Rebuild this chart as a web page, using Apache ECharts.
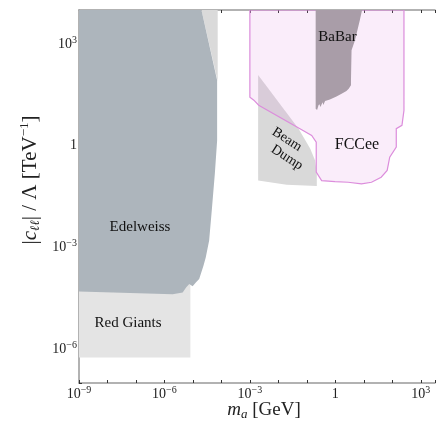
<!DOCTYPE html>
<html>
<head>
<meta charset="utf-8">
<script src="https://cdn.jsdelivr.net/npm/echarts@6.0.0/dist/echarts.min.js"></script>
<style>
  html, body { margin: 0; padding: 0; background: #fff; }
  #main { width: 438px; height: 429px; }
</style>
</head>
<body>
<div id="main"></div>
<script>
// each region: list of [log10(m_a / GeV), log10(|c_ll|/Lambda / TeV^-1)]
const redGiants = [[-9, -3.9], [-5.09, -3.9], [-5.09, -6.25], [-9, -6.25]];
const upperGrey = [[-4.70, 4], [-4.13, 4], [-4.13, 1.9]];
const edelweiss = [
  [-9, 4], [-4.70, 4], [-4.15, 1.93], [-4.15, 0.15], [-4.23, -0.82], [-4.33, -1.83],
  [-4.43, -2.80], [-4.55, -3.30], [-4.63, -3.54], [-4.78, -3.93], [-4.89, -4.03],
  [-5.01, -4.15], [-5.13, -4.08], [-5.24, -4.18], [-5.36, -4.33], [-5.71, -4.38], [-9, -4.30]
];
const beamDump = [
  [-2.71, 2.08], [-1.29, 0.50], [-0.88, -0.09], [-0.71, -0.44], [-0.65, -0.83],
  [-0.65, -1.19], [-1.71, -1.15], [-2.71, -1.03]
];
const fccee = [
  [-3, 4], [-3, 1.43], [-2.86, 1.34], [-2.69, 1.19], [-1.18, 0.47], [-0.83, 0.30],
  [-0.67, 0.10], [-0.67, -0.78], [-0.48, -1.03], [-0.01, -1.06], [0.45, -1.08],
  [0.92, -1.13], [1.27, -1.08], [1.61, -0.93], [1.82, -0.73], [1.91, -0.34],
  [2.14, -0.04], [2.14, 0.50], [2.34, 0.60], [2.41, 1.04], [2.41, 4]
];
const babar = [
  [-0.69, 4], [0.94, 4], [0.86, 3.70], [0.69, 3.11], [0.57, 2.81], [0.55, 1.93],
  [0.55, 1.78], [0.47, 1.68], [0.39, 1.61], [0.22, 1.53], [0.04, 1.45], [-0.19, 1.36],
  [-0.36, 1.32], [-0.42, 1.20], [-0.45, 1.28], [-0.52, 1.14], [-0.56, 1.22],
  [-0.59, 1.19], [-0.64, 1.05], [-0.69, 1.09]
];
const xLabelExps = [-9, -6, -3, 0, 3];
const yLabelExps = [-6, -3, 0, 3];

const serif = '"Liberation Serif", "DejaVu Serif", serif';
const chart = echarts.init(document.getElementById('main'));

function region(pts, fill, stroke) {
  const data = pts.map(p => [Math.pow(10, p[0]), Math.pow(10, p[1])]);
  return {
    type: 'custom',
    silent: true,
    clip: true,
    data: data,
    renderItem: function (params, api) {
      if (params.dataIndex !== 0) return null;
      return {
        type: 'polygon',
        shape: { points: data.map(d => api.coord(d)) },
        style: { fill: fill, stroke: stroke || null, lineWidth: stroke ? 1.2 : 0 }
      };
    }
  };
}

function powLabel(exps) {
  return function (v) {
    const e = Math.round(Math.log10(v));
    if (exps.indexOf(e) < 0) return '';
    if (e === 0) return '{b|1}';
    return '{b|10}{s|' + String(e).replace('-', '−') + '}';
  };
}
const labelRich = {
  b: { fontFamily: serif, fontSize: 14, color: '#222', lineHeight: 18 },
  s: { fontFamily: serif, fontSize: 10, color: '#222', verticalAlign: 'top' }
};
const axisLineStyle = { color: '#999', width: 1.5 };

function txt(x, y, text, size, rot) {
  return {
    type: 'text', x: x, y: y, z: 100, rotation: rot || 0,
    style: { text: text, font: size + 'px ' + serif, fill: '#111', align: 'center', verticalAlign: 'middle' }
  };
}

const option = {
  animation: false,
  grid: { left: 79, top: 10, right: 0, bottom: 46 },
  xAxis: [
    {
      type: 'log', min: 1e-9, max: Math.pow(10, 3.5), interval: 1,
      axisLine: { lineStyle: axisLineStyle },
      axisTick: { inside: true, length: 3, lineStyle: { color: '#333' } },
      axisLabel: { formatter: powLabel(xLabelExps), rich: labelRich, margin: 2 },
      splitLine: { show: false }
    },
    {
      type: 'log', position: 'top', min: 1e-9, max: Math.pow(10, 3.5), interval: 1,
      axisLine: { lineStyle: axisLineStyle },
      axisTick: { inside: true, length: 3, lineStyle: { color: '#333' } },
      axisLabel: { show: false },
      splitLine: { show: false }
    }
  ],
  yAxis: {
    type: 'log', min: 1e-7, max: 1e4, interval: 1,
    axisLine: { lineStyle: axisLineStyle },
    axisTick: { inside: true, length: 3, lineStyle: { color: '#333' } },
    axisLabel: { formatter: powLabel(yLabelExps), rich: labelRich, margin: 2 },
    splitLine: { show: false }
  },
  graphic: [
    txt(337.5, 37, 'BaBar', 15),
    txt(357, 145, 'FCCee', 16),
    txt(140, 227, 'Edelweiss', 15),
    txt(128, 323, 'Red Giants', 15),
    txt(287, 139.5, 'Beam', 14, -Math.PI / 5.5),
    txt(287, 157.5, 'Dump', 14, -Math.PI / 5.5),
    {
      type: 'text', x: 264, y: 410, z: 100,
      style: {
        text: '{i|m}{sub|a}{n| [GeV]}', align: 'center', verticalAlign: 'middle',
        rich: {
          i: { fontFamily: serif, fontSize: 19, fontStyle: 'italic', fill: '#222', lineHeight: 22 },
          n: { fontFamily: serif, fontSize: 19, fill: '#222', lineHeight: 22 },
          sub: { fontFamily: serif, fontSize: 13, fontStyle: 'italic', fill: '#222', verticalAlign: 'bottom' }
        }
      }
    },
    {
      type: 'text', x: 30, y: 180, rotation: Math.PI / 2, z: 100,
      style: {
        text: '{n||}{i|c}{sub|ℓℓ}{n|| / Λ [TeV}{sup|−1}{n|]}', align: 'center', verticalAlign: 'middle',
        rich: {
          i: { fontFamily: serif, fontSize: 21, fontStyle: 'italic', fill: '#222', lineHeight: 24 },
          n: { fontFamily: serif, fontSize: 21, fill: '#222', lineHeight: 24 },
          sub: { fontFamily: serif, fontSize: 13, fontStyle: 'italic', fill: '#222', verticalAlign: 'bottom' },
          sup: { fontFamily: serif, fontSize: 13, fill: '#222', verticalAlign: 'top' }
        }
      }
    }
  ],
  series: [
    region(redGiants, '#e4e4e4'),
    region(upperGrey, '#dadada'),
    region(edelweiss, '#adb5bc'),
    region(beamDump, '#d9d9d9'),
    region(fccee, 'rgba(222,130,222,0.14)', '#dc8ddc'),
    region(babar, '#a99da8')
  ]
};
chart.setOption(option);
</script>
</body>
</html>
